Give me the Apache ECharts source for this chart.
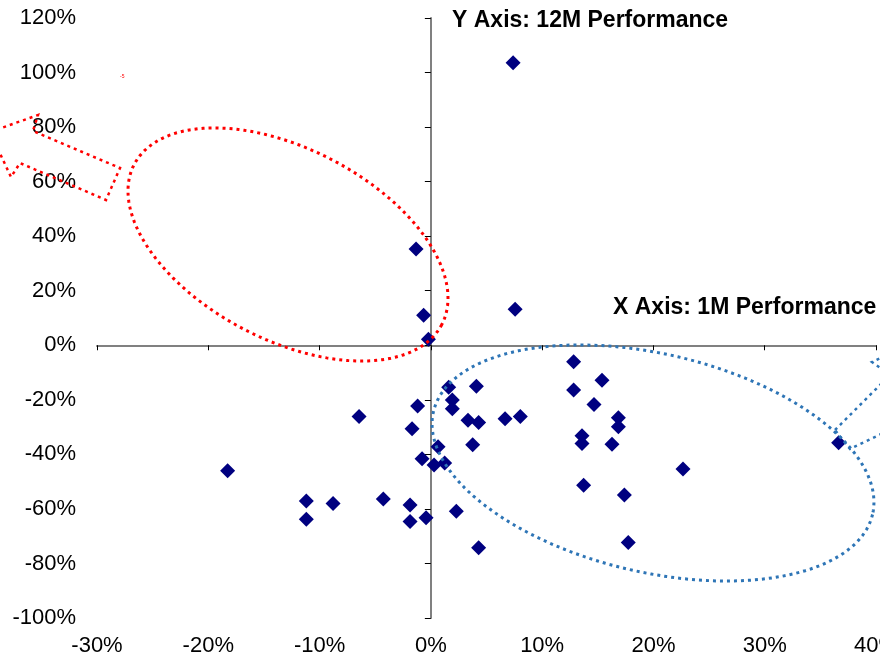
<!DOCTYPE html>
<html>
<head>
<meta charset="utf-8">
<script src="https://cdn.jsdelivr.net/npm/echarts@6/dist/echarts.min.js"></script>
<style>
html,body{margin:0;padding:0;background:#fff;}
#chart{width:880px;height:662px;}
</style>
</head>
<body>
<div id="chart"></div>
<script>
// 1M performance (%), x axis
var xValues = [7.39, -1.33, -0.65, -0.22, 7.57, 1.60, 4.09, -1.19, 1.93, 1.93,
  -1.69, 3.34, 4.29, 6.67, 8.04, 3.76, 0.65, -0.79, 0.29, 1.24,
  -1.87, -1.87, -0.43, 2.29, 4.29, 12.83, 15.38, 12.83, 14.66, 16.85,
  16.85, 13.58, 13.58, 16.28, 22.66, 13.73, 17.39, 17.74, -18.26, -6.45,
  -11.19, -11.19, -8.79, -4.27, 36.64];
// 12M performance (%), y axis
var yValues = [103.6, 35.3, 11.0, 2.2, 13.2, -15.4, -15.0, -22.3, -20.1, -23.3,
  -30.6, -27.5, -28.3, -26.9, -26.1, -36.5, -37.2, -41.6, -43.9, -43.2,
  -58.6, -64.6, -63.2, -60.9, -74.2, -6.0, -12.8, -16.4, -21.7, -26.6,
  -29.9, -33.2, -36.0, -36.3, -45.4, -51.3, -54.9, -72.3, -46.0, -26.1,
  -57.1, -63.8, -58.0, -56.4, -35.7];
var xMin = -30, xMax = 40, xStep = 10;
var yMin = -100, yMax = 120, yStep = 20;
var yTitle = 'Y Axis: 12M Performance';
var xTitle = 'X Axis: 1M Performance';

var points = xValues.map(function (x, i) { return [x, yValues[i]]; });
var FONT = '"Liberation Sans", Arial, sans-serif';

function ellipsePts(cx, cy, a, b, deg) {
  var t = deg * Math.PI / 180, pts = [];
  for (var i = 0; i < 180; i++) {
    var u = 2 * Math.PI * i / 180;
    pts.push([cx + a * Math.cos(u) * Math.cos(t) - b * Math.sin(u) * Math.sin(t),
              cy + a * Math.cos(u) * Math.sin(t) + b * Math.sin(u) * Math.cos(t)]);
  }
  return pts;
}

var grid = {left: 97, right: 4, top: 18, bottom: 44, containLabel: false, outerBoundsMode: 'none'};
var pct = function (v) { return v + '%'; };

var chart = echarts.init(document.getElementById('chart'), null, {renderer: 'canvas'});
chart.setOption({
  animation: false,
  backgroundColor: '#ffffff',
  grid: [Object.assign({}, grid), Object.assign({}, grid)],
  xAxis: [
    {type: 'value', gridIndex: 0, min: xMin, max: xMax, interval: xStep, position: 'bottom',
     axisLine: {show: true, onZero: true, lineStyle: {color: '#808080', width: 2}},
     axisTick: {show: true, length: 5, lineStyle: {color: '#000', width: 1}},
     axisLabel: {show: false}, splitLine: {show: false}},
    {type: 'value', gridIndex: 1, min: xMin, max: xMax, interval: xStep, position: 'bottom',
     axisLine: {show: false, onZero: false}, axisTick: {show: false},
     axisLabel: {show: true, margin: 17, formatter: pct, color: '#000', fontSize: 22, fontFamily: FONT,
                 hideOverlap: false},
     splitLine: {show: false}}
  ],
  yAxis: [
    {type: 'value', gridIndex: 0, min: yMin, max: yMax, interval: yStep, position: 'left',
     axisLine: {show: true, onZero: true, lineStyle: {color: '#808080', width: 2}},
     axisTick: {show: true, length: 6, lineStyle: {color: '#000', width: 1}},
     axisLabel: {show: false}, splitLine: {show: false}},
    {type: 'value', gridIndex: 1, min: yMin, max: yMax, interval: yStep, position: 'left',
     axisLine: {show: false, onZero: false}, axisTick: {show: false},
     axisLabel: {show: true, margin: 21, formatter: pct, color: '#000', fontSize: 22, fontFamily: FONT},
     splitLine: {show: false}}
  ],
  series: [{
    type: 'scatter', xAxisIndex: 0, yAxisIndex: 0,
    symbol: 'diamond', symbolSize: 15,
    itemStyle: {color: '#000080', opacity: 1},
    data: points, z: 5
  }],
  graphic: [
    {type: 'polygon', z: 100, silent: true,
     shape: {points: ellipsePts(288, 244.5, 173.4, 95.5, 27.5)},
     style: {fill: 'none', stroke: '#ff0000', lineWidth: 3, lineDash: [3, 4]}},
    {type: 'polygon', z: 100, silent: true,
     shape: {points: [[-10, 132], [38, 115], [33, 131], [120, 168], [106, 200], [20, 163], [11, 177]]},
     style: {fill: 'none', stroke: '#ff0000', lineWidth: 2.5, lineDash: [3, 4]}},
    {type: 'polygon', z: 100, silent: true,
     shape: {points: ellipsePts(653, 463, 225.5, 109.1, 13.2)},
     style: {fill: 'none', stroke: '#2E75B6', lineWidth: 3, lineDash: [3, 4]}},
    {type: 'polygon', z: 100, silent: true,
     shape: {points: [[835, 430], [890, 375], [872, 362], [940, 330], [910, 420], [850, 449]]},
     style: {fill: 'none', stroke: '#2E75B6', lineWidth: 2.5, lineDash: [3, 4]}},
    {type: 'text', z: 100, silent: true,
     style: {text: yTitle, x: 452, y: 21, fill: '#000', font: 'bold 23px ' + FONT, textVerticalAlign: 'middle'}},
    {type: 'text', z: 100, silent: true,
     style: {text: xTitle, x: 613, y: 308, fill: '#000', font: 'bold 23px ' + FONT, textVerticalAlign: 'middle'}},
    {type: 'text', z: 100, silent: true,
     style: {text: '-5', x: 120, y: 77, fill: '#ff0000', font: '5px ' + FONT, textVerticalAlign: 'middle'}}
  ]
});
</script>
</body>
</html>
